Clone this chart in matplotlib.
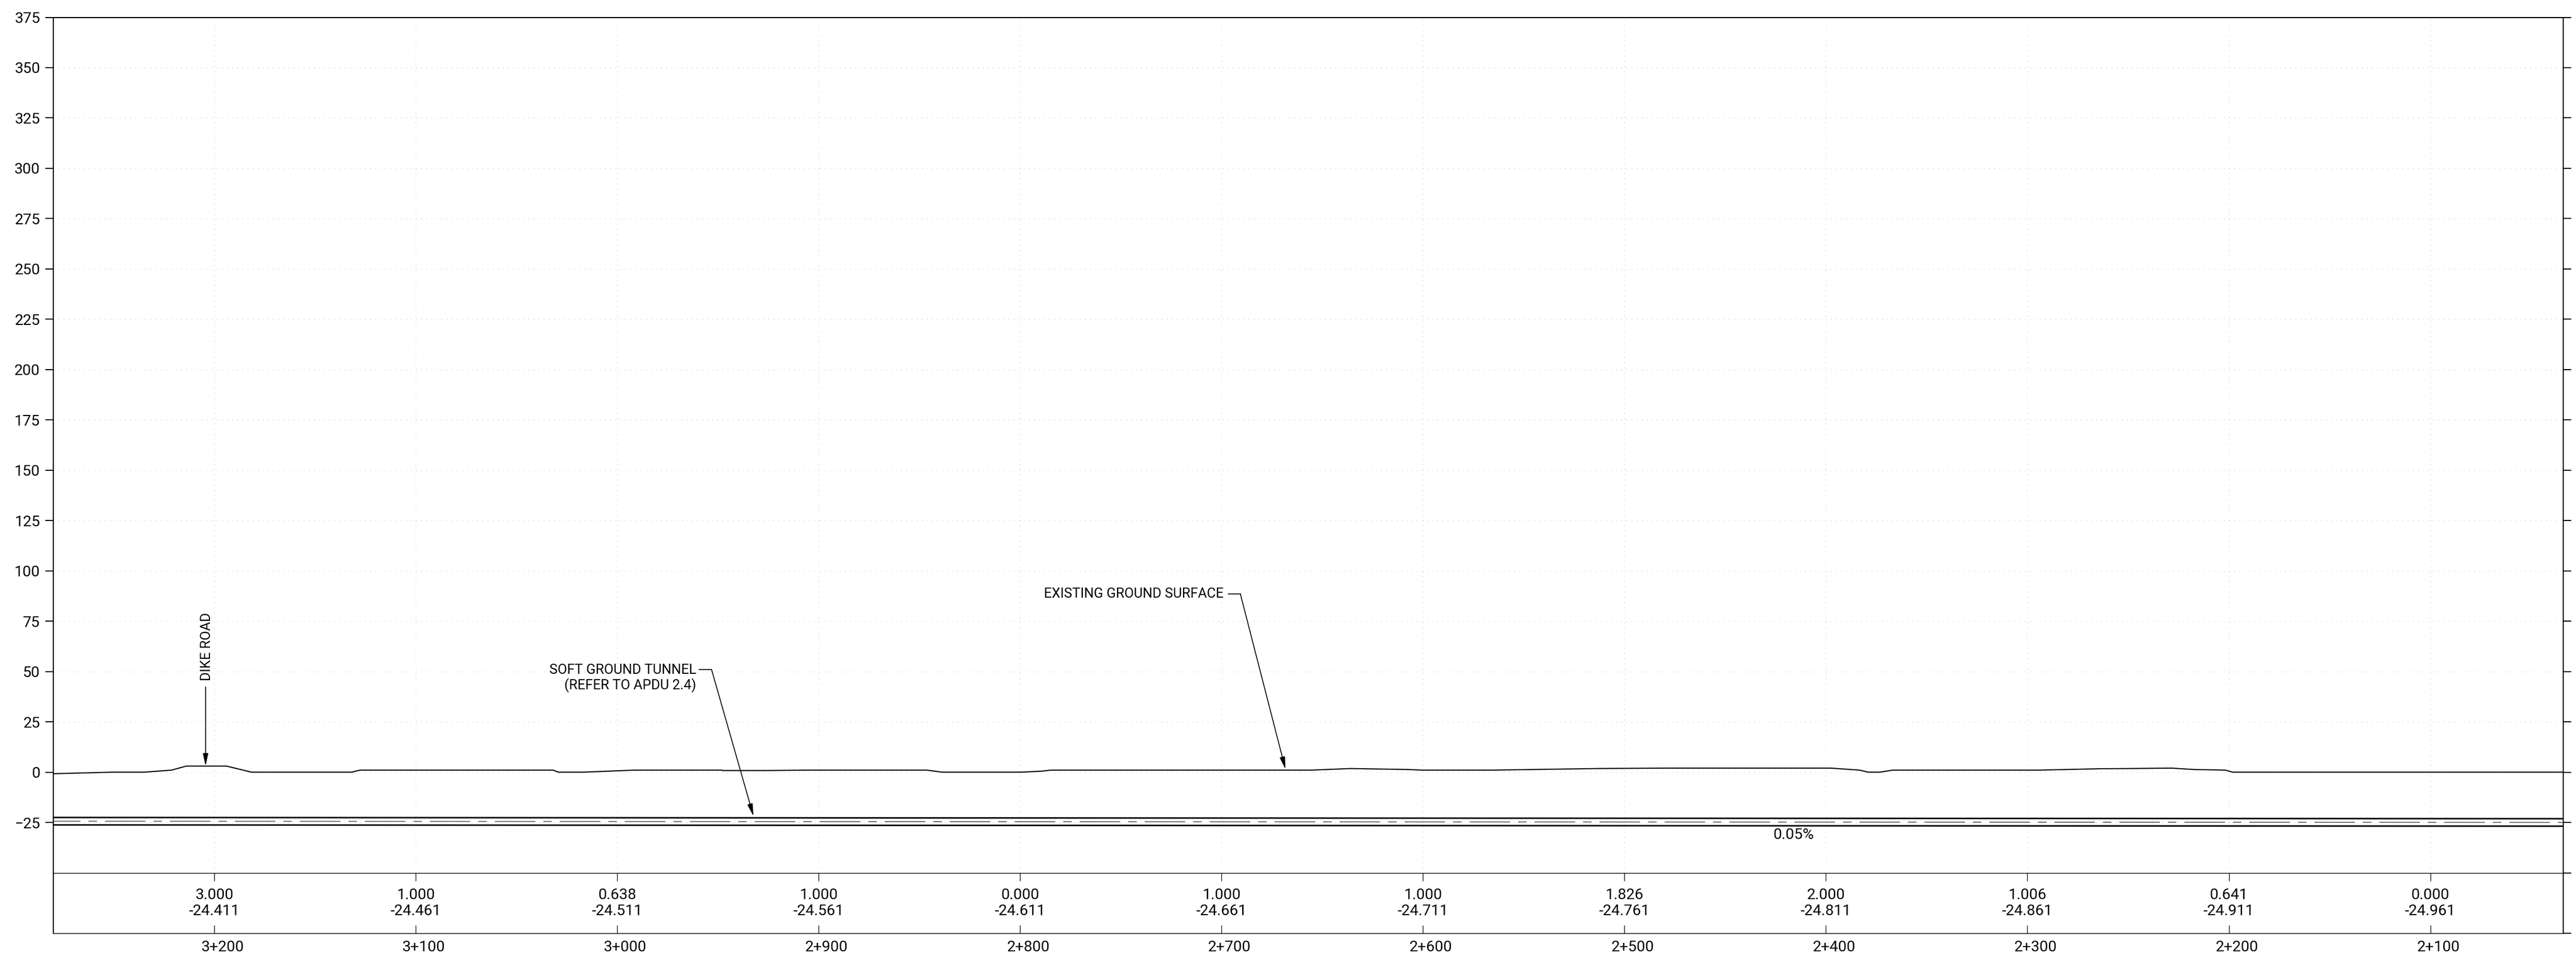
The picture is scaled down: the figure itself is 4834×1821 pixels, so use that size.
import matplotlib
matplotlib.use("Agg")
import matplotlib.pyplot as plt
from matplotlib.transforms import ScaledTranslation

# station along the alignment, running backwards left to right
x_left = 3280
x_right = 2034
stations = [3200, 3100, 3000, 2900, 2800, 2700, 2600, 2500, 2400, 2300, 2200, 2100]
station_labels = ["3+200", "3+100", "3+000", "2+900", "2+800", "2+700",
                  "2+600", "2+500", "2+400", "2+300", "2+200", "2+100"]
ground_labels = ["3.000", "1.000", "0.638", "1.000", "0.000", "1.000",
                 "1.000", "1.826", "2.000", "1.006", "0.641", "0.000"]
profile_labels = ["-24.411", "-24.461", "-24.511", "-24.561", "-24.611", "-24.661",
                  "-24.711", "-24.761", "-24.811", "-24.861", "-24.911", "-24.961"]
y_ticks = [375, 350, 325, 300, 275, 250, 225, 200, 175, 150, 125, 100, 75, 50, 25, 0, -25]

# existing ground surface
ground_x = [3280, 3250.7, 3234.7, 3221.3, 3214, 3194, 3181.6, 3131.9, 3127.7, 3031.9,
            3029.3, 3016.7, 2991.4, 2948.1, 2947.6, 2924, 2907.1, 2846.4, 2838.8, 2799.2,
            2789.1, 2784.8, 2655.3, 2636, 2607.3, 2600.5, 2565.1, 2513.2, 2479.4, 2397.6,
            2383.3, 2379.1, 2373.2, 2366.8, 2294, 2263.6, 2248.8, 2228.4, 2217.1, 2201.7,
            2198.1, 2034]
ground_y = [-0.8, 0, 0, 1, 3, 3, 0, 0, 1, 1,
            0, 0, 1, 1, 0.8, 0.8, 1, 1, 0, 0,
            0.5, 1, 1, 1.8, 1.3, 1, 1, 1.8, 2, 2,
            1, 0, 0, 1, 1, 1.7, 1.8, 2, 1.3, 1,
            0, 0]

# tunnel crown, invert and centre line
tunnel_x = [3280, 2034]
tunnel_top = [-22.52, -23.14]
tunnel_centre = [-24.371, -24.994]
tunnel_bottom = [-26.22, -26.84]

plt.rcParams["font.family"] = ["Roboto", "DejaVu Sans"]
plt.rcParams["lines.scale_dashes"] = False

W, H = 4834, 1821
NUM_SIZE = 20.5
NOTE_SIZE = 18.5
fig = plt.figure(figsize=(W / 100, H / 100), dpi=100, facecolor="white")


def axes_box(left, top, right, bottom):
    return [left / W, 1 - bottom / H, (right - left) / W, (bottom - top) / H]


ax = fig.add_axes(axes_box(100, 32.5, 4810, 1638.5))
table = fig.add_axes(axes_box(100, 1638.5, 4810, 1752.4))

ax.set_xlim(x_left, x_right)
ax.set_ylim(-50, 375)
table.set_xlim(x_left, x_right)
table.set_ylim(-80, -50)

# grid
ax.set_xticks(stations)
ax.set_yticks(y_ticks)
ax.grid(True, color="#c4c4c4", linewidth=0.9, linestyle=(0, (0.9, 6.0)))
ax.set_axisbelow(True)
ax.tick_params(axis="x", length=0, labelbottom=False)
ax.tick_params(axis="y", left=True, right=True, length=10.8, width=1.4, pad=7,
               labelsize=NUM_SIZE)
for side in ["left", "right", "top"]:
    ax.spines[side].set_linewidth(1.5)
ax.spines["bottom"].set_visible(False)

# profile lines
ax.plot(ground_x, ground_y, color="black", linewidth=1.5, zorder=3)
ax.plot(tunnel_x, tunnel_top, color="black", linewidth=2.1, zorder=3)
ax.plot(tunnel_x, tunnel_bottom, color="black", linewidth=2.1, zorder=3)
ax.plot(tunnel_x, tunnel_centre, color="#111111", linewidth=0.8, zorder=3,
        linestyle=(18, (54.7, 10.8, 11.5, 10.8)))

# notes and leaders
arrow = dict(arrowstyle="-|>,head_length=14,head_width=3", color="black", linewidth=1.2,
             shrinkA=0, shrinkB=0, mutation_scale=1)
ax.annotate("", xy=(3204.4, 3.07), xytext=(3204.4, 42.3), arrowprops=arrow, zorder=4)
ax.text(3203.9, 62.4, "DIKE ROAD", rotation=90, ha="center", va="center", fontsize=NOTE_SIZE)

ax.text(2960.8, 46.7, "SOFT GROUND TUNNEL\n(REFER TO APDU 2.4)", ha="right", va="center",
        multialignment="right", fontsize=NOTE_SIZE, linespacing=1.15)
ax.plot([2959.4, 2953.2], [50.9, 50.9], color="black", linewidth=1.2)
ax.annotate("", xy=(2932.4, -21.9), xytext=(2953.2, 50.9), arrowprops=arrow, zorder=4)

ax.text(2699.1, 88.5, "EXISTING GROUND SURFACE", ha="right", va="center", fontsize=NOTE_SIZE)
ax.plot([2696.7, 2690.7], [88.5, 88.5], color="black", linewidth=1.2)
ax.annotate("", xy=(2668.3, 1.4), xytext=(2690.7, 88.5), arrowprops=arrow, zorder=4)

ax.text(2416, -31.1, "0.05%", ha="center", va="center", fontsize=NUM_SIZE)

# band under the profile
table.set_xticks(stations)
table.set_xticklabels(station_labels)
table.tick_params(axis="x", top=True, bottom=True, direction="in", length=10.8, width=0.9,
                  labelsize=NUM_SIZE, pad=9)
shift = ScaledTranslation(15 / 100, 0, fig.dpi_scale_trans)
for label in table.get_xticklabels():
    label.set_transform(label.get_transform() + shift)

table.yaxis.tick_right()
table.set_yticks([-80, -50])
table.set_yticklabels([])
table.tick_params(axis="y", right=True, left=False, length=10.8, width=1.4)
table.spines["left"].set_linewidth(1.5)
table.spines["right"].set_linewidth(1.5)
table.spines["top"].set_linewidth(1.0)
table.spines["bottom"].set_linewidth(1.0)

for st, g, p in zip(stations, ground_labels, profile_labels):
    table.text(st, -61.06, g, ha="center", va="center", fontsize=NUM_SIZE)
    table.text(st, -69.0, p, ha="center", va="center", fontsize=NUM_SIZE)

fig.savefig("out.png", dpi=100, facecolor="white")
